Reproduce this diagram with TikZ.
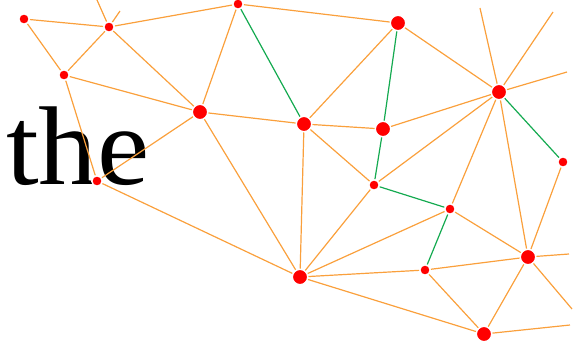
\documentclass[tikz,border=0pt]{standalone}
\usepackage{fontspec}
\setmainfont{Liberation Serif}
\definecolor{wire}{RGB}{250,160,60}
\definecolor{span}{RGB}{20,170,80}

\begin{document}
\begin{tikzpicture}[x=1pt,y=-1pt,
  big/.style={circle, fill=red, draw=white, line width=1.5pt, minimum size=15.5pt, inner sep=0pt},
  small/.style={circle, fill=red, draw=white, line width=1.5pt, minimum size=10.5pt, inner sep=0pt},
  link/.style={wire, line width=1.2pt},
  tlink/.style={span, line width=1.2pt}]
  \useasboundingbox (0,0) rectangle (577,348);
  \node[anchor=base west, inner sep=0pt, xscale=1.05, font=\fontsize{112}{112}\selectfont] (word) at (6,184) {the};

  % points
  \node[small] (a) at (24,19) {};
  \node[small] (b) at (109,27) {};
  \node[small] (c) at (64,75) {};
  \node[big] (d) at (200,112) {};
  \node[small] (e) at (238,4) {};
  \node[small] (f) at (97,181) {};
  \node[big] (g) at (398,23) {};
  \node[big] (h) at (304,124) {};
  \node[big] (i) at (383,129) {};
  \node[big] (j) at (499,92) {};
  \node[small] (k) at (563,162) {};
  \node[small] (l) at (374,185) {};
  \node[small] (m) at (450,209) {};
  \node[big] (n) at (300,277) {};
  \node[small] (o) at (425,270) {};
  \node[big] (p) at (528,257) {};
  \node[big] (q) at (484,334) {};

  % loose ends
  \coordinate (b1) at (97,0);
  \coordinate (b2) at (120,11);
  \coordinate (j1) at (480,8);
  \coordinate (j2) at (553,12);
  \coordinate (j3) at (567,72);
  \coordinate (p1) at (569,254);
  \coordinate (p2) at (572,309);
  \coordinate (q1) at (570,325);

  % edges
  \draw[link] (a) -- (b);
  \draw[link] (a) -- (c);
  \draw[link] (b) -- (c);
  \draw[link] (b) -- (d);
  \draw[link] (b) -- (e);
  \draw[link] (b) -- (b1);
  \draw[link] (b) -- (b2);
  \draw[link] (c) -- (d);
  \draw[link] (c) -- (f);
  \draw[link] (d) -- (e);
  \draw[link] (d) -- (f);
  \draw[link] (d) -- (h);
  \draw[link] (d) -- (n);
  \draw[link] (e) -- (g);
  \draw[link] (f) -- (n);
  \draw[link] (g) -- (h);
  \draw[link] (g) -- (j);
  \draw[link] (h) -- (i);
  \draw[link] (h) -- (n);
  \draw[link] (h) -- (l);
  \draw[link] (i) -- (j);
  \draw[link] (j) -- (l);
  \draw[link] (j) -- (m);
  \draw[link] (j) -- (p);
  \draw[link] (j) -- (j1);
  \draw[link] (j) -- (j2);
  \draw[link] (j) -- (j3);
  \draw[link] (k) -- (p);
  \draw[link] (l) -- (n);
  \draw[link] (m) -- (n);
  \draw[link] (m) -- (p);
  \draw[link] (n) -- (o);
  \draw[link] (n) -- (q);
  \draw[link] (o) -- (p);
  \draw[link] (o) -- (q);
  \draw[link] (p) -- (q);
  \draw[link] (p) -- (p1);
  \draw[link] (p) -- (p2);
  \draw[link] (q) -- (q1);

  % tree
  \draw[tlink] (e) -- (h);
  \draw[tlink] (g) -- (i);
  \draw[tlink] (i) -- (l);
  \draw[tlink] (l) -- (m);
  \draw[tlink] (m) -- (o);
  \draw[tlink] (j) -- (k);
\end{tikzpicture}
\end{document}
